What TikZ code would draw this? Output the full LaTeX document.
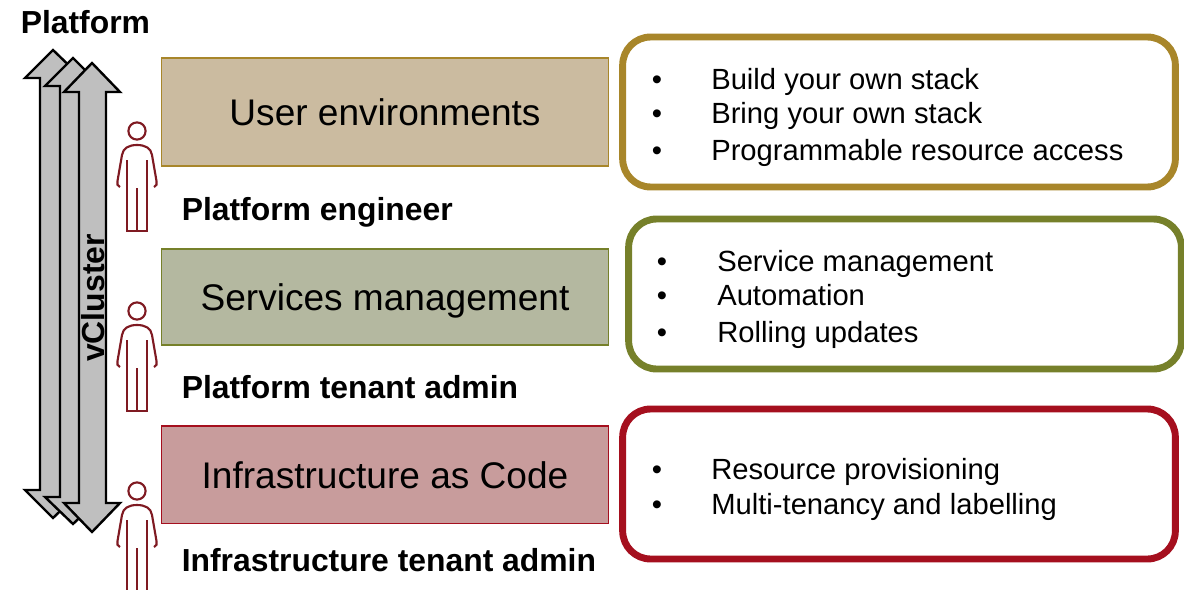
\documentclass[tikz,border=0pt]{standalone}
\usepackage{fontspec}
\setmainfont{Liberation Sans}
\definecolor{sand}{HTML}{CBBBA0}
\definecolor{sandline}{HTML}{A8862A}
\definecolor{olive}{HTML}{B4B8A0}
\definecolor{oliveline}{HTML}{76802A}
\definecolor{rose}{HTML}{C89C9C}
\definecolor{roseline}{HTML}{A50F1E}
\definecolor{personline}{HTML}{7F1A22}
\definecolor{arrowgrey}{HTML}{BFBFBF}
\tikzset{
    layerbox/.style={draw, line width=1pt, minimum width=335.5pt, inner sep=0pt, text height=25pt, text depth=4.5pt, font=\fontsize{27.8}{32}\selectfont},
    listbox/.style={draw, line width=5.2pt, rounded corners=21pt, minimum width=414.5pt, minimum height=112.5pt, fill=white},
    bullet/.style={anchor=base, inner sep=0pt, font=\fontsize{21.9}{26}\selectfont},
    item/.style={anchor=base west, inner sep=0pt, font=\fontsize{21.9}{26}\selectfont},
    rolelabel/.style={anchor=base west, inner sep=0pt, font=\bfseries\fontsize{23.9}{28}\selectfont},
    biarrow/.style={draw=black, fill=arrowgrey, line width=1.8pt, miter limit=10},
    person/.pic={
        \draw[personline, line width=1.6pt] (0,0) circle (8.6);
        \draw[personline, line width=1.6pt, line join=round]
            (-17,56) .. controls (-20,55) and (-20,53) .. (-19.5,50)
            -- (-15,24) .. controls (-14,17) and (-8,14) .. (0,14)
            .. controls (8,14) and (14,17) .. (15,24)
            -- (19.5,50) .. controls (20,53) and (20,55) .. (17,56);
        \draw[personline, line width=1.6pt]
            (-10,29) -- (-10,100) -- (10,100) -- (10,29)
            (0,57) -- (0,100);
    }
}
\begin{document}
\begin{tikzpicture}[x=0.75pt, y=-0.75pt]
    \useasboundingbox (0,0) rectangle (1184,589);

    \node[rolelabel] (P) at (20.5,33.5) {Platform};

    % the three arrows
    \draw[biarrow] (53,50) -- (82,78) -- (66,78) -- (66,490) -- (82,490) -- (53,518) -- (25,490) -- (40,490) -- (40,78) -- (25,78) -- cycle;
    \draw[biarrow] (73,58) -- (101,86) -- (85,86) -- (85,497) -- (101,497) -- (73,524) -- (45,497) -- (60,497) -- (60,86) -- (45,86) -- cycle;
    \draw[biarrow] (92,63) -- (120,92) -- (106,92) -- (106,503) -- (120,503) -- (92,532) -- (64,503) -- (79,503) -- (79,92) -- (64,92) -- cycle;
    \node[rotate=90, inner sep=0pt, font=\bfseries\fontsize{23.9}{28}\selectfont] (V) at (93,298) {vCluster};

    \pic at (137,131) {person};
    \pic at (137,311) {person};
    \pic at (137,491) {person};

    \node[layerbox, draw=sandline, fill=sand, minimum height=81pt] (A) at (385,112) {User environments};
    \node[layerbox, draw=oliveline, fill=olive, minimum height=72pt] (B) at (385,297) {Services management};
    \node[layerbox, draw=roseline, fill=rose, minimum height=73pt] (C) at (385,474.5) {Infrastructure as Code};

    \node[rolelabel] (R1) at (181.5,220) {Platform engineer};
    \node[rolelabel] (R2) at (181.5,398) {Platform tenant admin};
    \node[rolelabel] (R3) at (181.5,571) {Infrastructure tenant admin};

    \node[listbox, draw=sandline] (L1) at (899,112) {};
    \node[listbox, draw=oliveline] (L2) at (905,294) {};
    \node[listbox, draw=roseline] (L3) at (899,484) {};

    \node[bullet] (b1) at (657,89) {•};
    \node[bullet] (b2) at (657,123) {•};
    \node[bullet] (b3) at (657,160) {•};
    \node[item] (t1) at (711,89) {Build your own stack};
    \node[item] (t2) at (711,123) {Bring your own stack};
    \node[item] (t3) at (711,160) {Programmable resource access};

    \node[bullet] (b4) at (662,271) {•};
    \node[bullet] (b5) at (662,305) {•};
    \node[bullet] (b6) at (662,342) {•};
    \node[item] (t4) at (717,271) {Service management};
    \node[item] (t5) at (717,305) {Automation};
    \node[item] (t6) at (717,342) {Rolling updates};

    \node[bullet] (b7) at (657,479) {•};
    \node[bullet] (b8) at (657,514) {•};
    \node[item] (t7) at (711,479) {Resource provisioning};
    \node[item] (t8) at (711,514) {Multi-tenancy and labelling};
\end{tikzpicture}
\end{document}
